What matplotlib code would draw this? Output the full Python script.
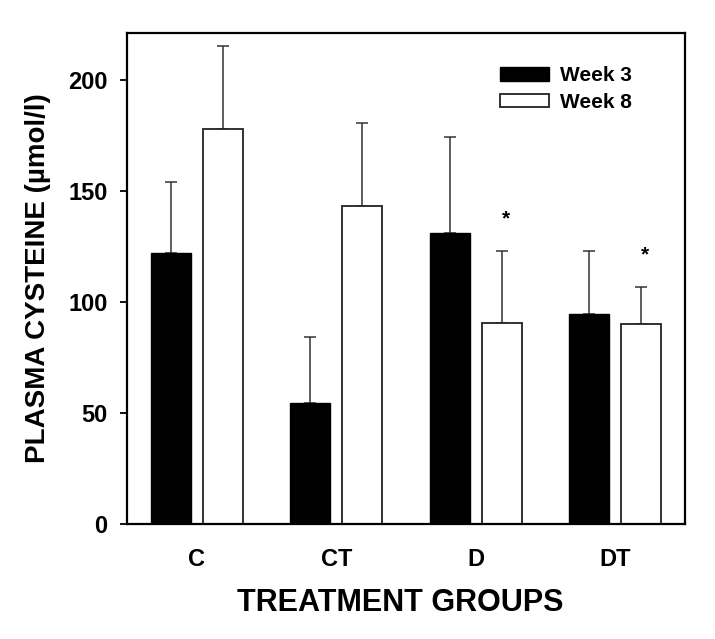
import matplotlib
matplotlib.use("Agg")
import matplotlib.pyplot as plt
import numpy as np

plt.rcParams['font.family'] = ['Liberation Sans', 'DejaVu Sans']
plt.rcParams['font.weight'] = 'bold'

groups = ["C", "CT", "D", "DT"]
week3 = [122, 54.5, 131, 94.5]
week3_err = [32, 29.5, 43, 28.5]
week8 = [178, 143, 90.5, 90]
week8_err = [37, 37.5, 32.5, 16.5]
week8_sig = [False, False, True, True]
yticks = [0, 50, 100, 150, 200]

fig = plt.figure(figsize=(7.15, 6.39), dpi=100)
ax = fig.add_axes([127/715, 1-524/639, (685-127)/715, (524-33)/639])

x = np.arange(len(groups))
w = 0.286
off = 0.186
ekw = dict(ecolor='#333333', elinewidth=1.1, capsize=4, capthick=1.1)
ax.bar(x - off, week3, w, color='black', edgecolor='black', linewidth=1.0,
       label='Week 3', zorder=2)
ax.errorbar(x - off, week3, yerr=[np.zeros(len(x)), week3_err], fmt='none', zorder=1, **ekw)
ax.bar(x + off, week8, w, color='white', edgecolor='#222222', linewidth=1.3,
       label='Week 8', zorder=2)
ax.errorbar(x + off, week8, yerr=[np.zeros(len(x)), week8_err], fmt='none', zorder=1, **ekw)

for i, s in enumerate(week8_sig):
    if s:
        ax.text(x[i] + off + 0.03, week8[i] + week8_err[i] + 14.5, '*', ha='center', va='center',
                fontsize=15, fontweight='bold')

ax.set_xlim(-0.5, 3.5)
ax.set_ylim(0, 221)
ax.set_yticks(yticks)
ax.set_yticklabels([str(t) for t in yticks], fontsize=17, fontweight='bold')
ax.set_xticks(x)
ax.set_xticklabels(groups, fontsize=17, fontweight='bold')
ax.tick_params(axis='y', direction='out', length=5, width=1.3, pad=9)
ax.tick_params(axis='x', length=0, pad=17)
for sp in ax.spines.values():
    sp.set_linewidth(1.6)

ax.set_xlabel('TREATMENT GROUPS', fontsize=22, fontweight='bold')
ax.xaxis.set_label_coords(0.49, -0.13)
ax.set_ylabel('PLASMA CYSTEINE (µmol/l)', fontsize=20, fontweight='bold')
ax.yaxis.set_label_coords(-0.137, 0.5)

leg = ax.legend(loc='upper left', bbox_to_anchor=(0.668, 0.933), frameon=False,
                prop={'weight': 'bold', 'size': 15}, handlelength=2.35, handleheight=0.65,
                handletextpad=0.52, labelspacing=0.38, borderpad=0, borderaxespad=0)

fig.savefig('out.png', dpi=100, facecolor='white')
